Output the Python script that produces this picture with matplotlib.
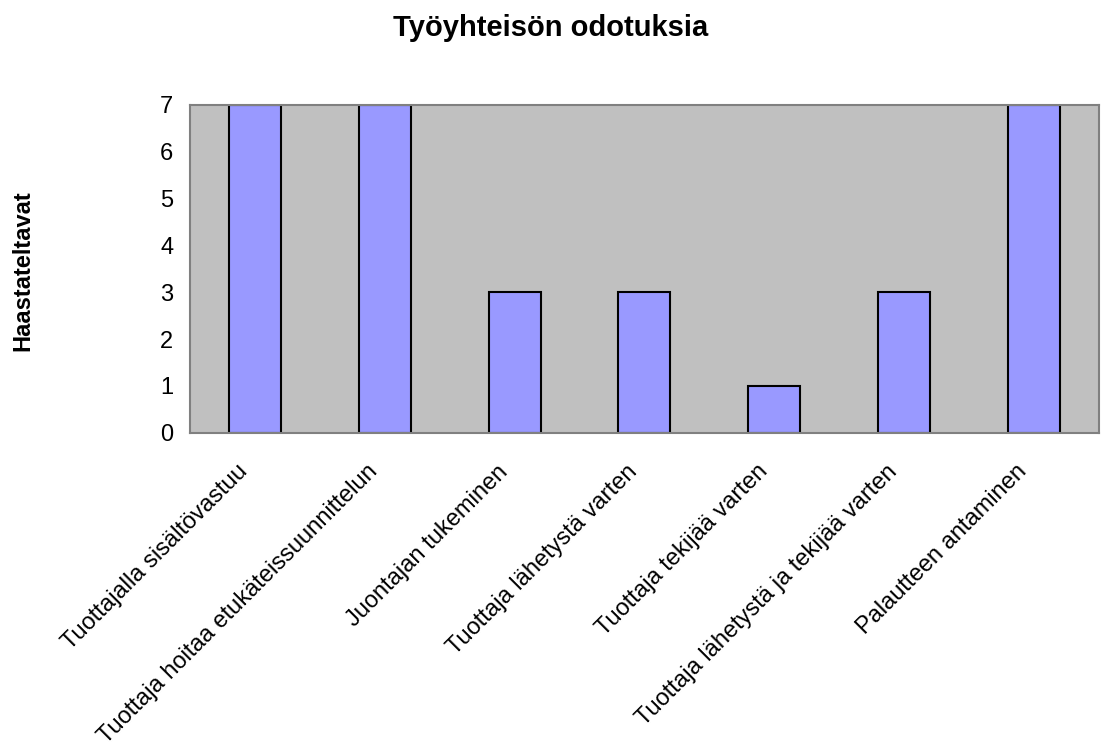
import matplotlib
matplotlib.use("Agg")
import matplotlib.pyplot as plt
import matplotlib.transforms as mtransforms

# Chart data
categories = [
    "Tuottajalla sisältövastuu",
    "Tuottaja hoitaa etukäteissuunnittelun",
    "Juontajan tukeminen",
    "Tuottaja lähetystä varten",
    "Tuottaja tekijää varten",
    "Tuottaja lähetystä ja tekijää varten",
    "Palautteen antaminen",
]
values = [7, 7, 3, 3, 1, 3, 7]

plt.rcParams["font.family"] = ["Liberation Sans", "DejaVu Sans"]

fig = plt.figure(figsize=(11.01, 7.45), dpi=100)
ax = fig.add_axes([0.1726, 0.419, 0.8254, 0.4405])

x = range(len(categories))
ax.bar(x, values, width=0.4, color="#9999FF", edgecolor="black", linewidth=1.5)

ax.set_facecolor("#C0C0C0")
ax.set_xlim(-0.5, len(categories) - 0.5)
ax.set_ylim(0, 7)
ax.set_yticks(range(0, 8))
ax.tick_params(axis="y", labelsize=17, length=0, pad=12)
ax.tick_params(axis="x", length=0, pad=20)
ax.set_xticks(list(x))
ax.set_xticklabels(categories, rotation=45, ha="right", rotation_mode="anchor", fontsize=17)
# nudge rotated labels left so their ends sit just left of the bar centre
shift = mtransforms.ScaledTranslation(-18 / 100, 0, fig.dpi_scale_trans)
for lbl in ax.get_xticklabels():
    lbl.set_transform(lbl.get_transform() + shift)
for s in ax.spines.values():
    s.set_color("#808080")
    s.set_linewidth(1.5)

fig.text(23 / 1101, 1 - 271 / 745, "Haastateltavat", rotation=90, fontsize=17,
         fontweight="bold", ha="center", va="center")
fig.text(0.5, 1 - 36 / 745, "Työyhteisön odotuksia", fontsize=21,
         fontweight="bold", ha="center", va="baseline")

fig.savefig("out.png", dpi=100)
